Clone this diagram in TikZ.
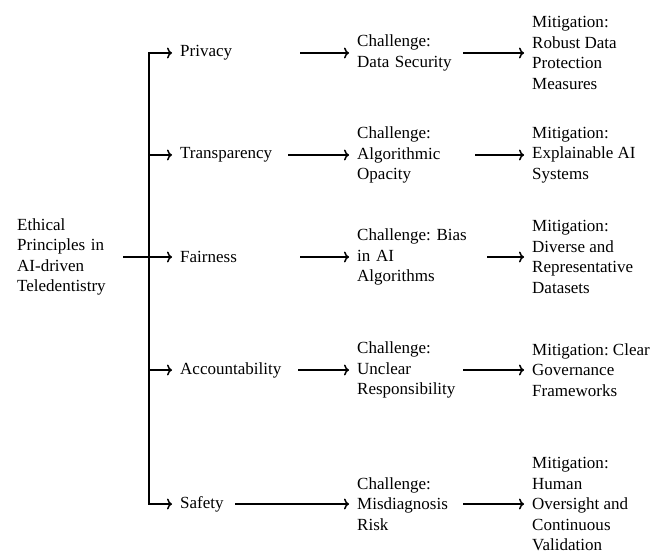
\documentclass[tikz,border=0pt]{standalone}
\usepackage{fontspec}
\setmainfont{Liberation Serif}
\usetikzlibrary{arrows.meta, positioning}

\begin{document}
\begin{tikzpicture}[x=1bp, y=-1bp,
  txt/.style={anchor=west, align=left, inner sep=0pt, font=\fontsize{17bp}{20.5bp}\selectfont\frenchspacing},
  link/.style={line width=1.5bp},
  flow/.style={link, -{To[length=5bp, width=11bp]}, shorten >=8bp}]
  \useasboundingbox (0,0) rectangle (665,553);

  % Root and hub of the trunk
  \node[txt, text width=106bp] (root) at (17,257) {Ethical\\Principles in\\AI-driven\\Teledentistry};
  \coordinate (hub) at (149,257);

  % Principles
  \node[txt, text width=120bp] (privacy) at (180,53) {Privacy};
  \node[txt, text width=108bp] (transp) at (180,155) {Transparency};
  \node[txt, text width=120bp] (fair) at (180,257) {Fairness};
  \node[txt, text width=118bp] (account) at (180,370) {Accountability};
  \node[txt, text width=55bp] (safety) at (180,504) {Safety};

  % Challenges
  \node[txt, text width=106bp] (chPrivacy) at (357,53) {Challenge:\\Data Security};
  \node[txt, text width=118bp] (chTransp) at (357,155) {Challenge:\\Algorithmic\\Opacity};
  \node[txt, text width=130bp] (chFair) at (357,257) {Challenge: Bias\\in AI\\Algorithms};
  \node[txt, text width=106bp] (chAccount) at (357,370) {Challenge:\\Unclear\\Responsibility};
  \node[txt, text width=106bp] (chSafety) at (357,504) {Challenge:\\Misdiagnosis\\Risk};

  % Mitigations
  \node[txt] (miPrivacy) at (532,53) {Mitigation:\\Robust Data\\Protection\\Measures};
  \node[txt] (miTransp) at (532,155) {Mitigation:\\Explainable AI\\Systems};
  \node[txt] (miFair) at (532,257) {Mitigation:\\Diverse and\\Representative\\Datasets};
  \node[txt] (miAccount) at (532,370) {Mitigation: Clear\\Governance\\Frameworks};
  \node[txt] (miSafety) at (532,504) {Mitigation:\\Human\\Oversight and\\Continuous\\Validation};

  % Trunk
  \draw[link] (root) -- (hub);
  \foreach \p in {privacy, transp, fair, account, safety}
    \draw[flow] (hub) |- (\p);

  % Principle -> challenge -> mitigation
  \foreach \p/\c/\m in {privacy/chPrivacy/miPrivacy, transp/chTransp/miTransp,
                        fair/chFair/miFair, account/chAccount/miAccount,
                        safety/chSafety/miSafety} {
    \draw[flow] (\p) -- (\c);
    \draw[flow] (\c) -- (\m);
  }
\end{tikzpicture}
\end{document}
